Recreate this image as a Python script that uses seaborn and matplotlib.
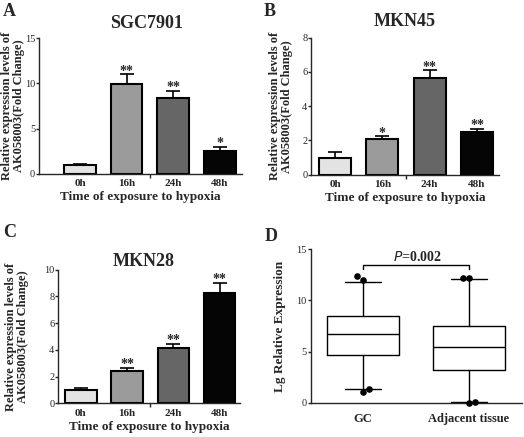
import matplotlib
matplotlib.use('Agg')
import matplotlib.pyplot as plt
import seaborn as sns

# Bar panels: time after hypoxia exposure
times = ['0h', '16h', '24h', '48h']
bar_colors = ['#e3e3e3', '#9b9b9b', '#666666', '#050505']

sgc7901_mean = [1.0, 9.9, 8.4, 2.5]
sgc7901_err = [0.08, 1.1, 0.75, 0.5]
sgc7901_sig = ['', '**', '**', '*']

mkn45_mean = [1.0, 2.1, 5.62, 2.52]
mkn45_err = [0.34, 0.14, 0.48, 0.16]
mkn45_sig = ['', '*', '**', '**']

mkn28_mean = [1.02, 2.45, 4.14, 8.25]
mkn28_err = [0.13, 0.2, 0.3, 0.75]
mkn28_sig = ['', '**', '**', '**']

# Box panel: GC vs adjacent tissue
groups = ['GC', 'Adjacent tissue']
box_whislo = [1.33, 0.05]
box_q1 = [4.7, 3.22]
box_med = [6.75, 5.42]
box_q3 = [8.5, 7.47]
box_whishi = [11.8, 12.1]
gc_fliers = [12.37, 11.98, 1.04, 1.33]
adj_fliers = [12.15, 12.15, 0.03, 0.1]
flier_dx = [-0.057, 0.0, 0.0, 0.06]
p_text = '=0.002'

sns.set_theme(style='ticks')
plt.rcParams['font.family'] = ['Liberation Serif', 'DejaVu Serif']
plt.rcParams['axes.linewidth'] = 1.0

fig = plt.figure(figsize=(5.24, 4.37), dpi=100)
ax_a = fig.add_axes([0.0744, 0.602, 0.3876, 0.311])
ax_b = fig.add_axes([0.594, 0.600, 0.358, 0.314])
ax_c = fig.add_axes([0.111, 0.077, 0.347, 0.306])
ax_d = fig.add_axes([0.594, 0.078, 0.402, 0.352])


def draw_bars(ax, title, means, errs, sig, yticks, xlim, title_pos, ylabel_x):
    sns.barplot(x=times, y=means, hue=times, palette=bar_colors, legend=False,
                edgecolor='black', linewidth=1.5, width=0.68, errorbar=None,
                saturation=1, ax=ax)
    ax.errorbar(range(len(times)), means, yerr=[[0] * len(errs), errs], fmt='none',
                ecolor='black', elinewidth=1.2, capsize=5, capthick=1.2, zorder=5)
    for i, s in enumerate(sig):
        if s:
            ax.annotate(s, (i, means[i] + errs[i]), xytext=(0, -2.5),
                        textcoords='offset points', ha='center', va='bottom',
                        fontsize=10, fontweight='bold')
    ax.set_xlim(*xlim)
    ax.set_ylim(yticks[0], yticks[-1])
    ax.set_yticks(yticks)
    ax.tick_params(axis='y', labelsize=7.5, length=2.2, width=1.0, pad=0.6)
    ax.tick_params(axis='x', length=0, pad=4, labelsize=8)
    ax.set_xticks([1.5], minor=True)
    ax.tick_params(axis='x', which='minor', length=3, width=1.0)
    for lab in ax.get_xticklabels():
        lab.set_fontweight('bold')
    ax.set_xlabel('Time of exposure to hypoxia', fontsize=9.5, fontweight='bold', labelpad=2)
    ax.set_ylabel('Relative expression levels of\nAK058003(Fold Change)', fontsize=9,
                  fontweight='bold', linespacing=1.0, va='center')
    ax.yaxis.set_label_coords(ylabel_x, 0.5)
    ax.text(title_pos[0], title_pos[1], title, transform=ax.transAxes, ha='center',
            va='center', fontsize=13, fontweight='bold')
    sns.despine(ax=ax)


draw_bars(ax_a, 'SGC7901', sgc7901_mean, sgc7901_err, sgc7901_sig, [0, 5, 10, 15],
          (-0.88, 3.48), (0.53, 1.11), -0.127)
draw_bars(ax_b, 'MKN45', mkn45_mean, mkn45_err, mkn45_sig, [0, 2, 4, 6, 8],
          (-0.5, 3.46), (0.5, 1.12), -0.16)
draw_bars(ax_c, 'MKN28', mkn28_mean, mkn28_err, mkn28_sig, [0, 2, 4, 6, 8, 10],
          (-0.49, 3.44), (0.47, 1.063), -0.225)

# Box plot panel
stats = []
for i in range(len(groups)):
    stats.append(dict(whislo=box_whislo[i], q1=box_q1[i], med=box_med[i],
                      q3=box_q3[i], whishi=box_whishi[i], fliers=[]))
line_kw = dict(color='black', linewidth=1.0)
ax_d.bxp(stats, positions=[0, 1], widths=0.68, capwidths=0.34, showfliers=False,
         boxprops=line_kw, whiskerprops=line_kw, capprops=line_kw,
         medianprops=line_kw)
for pos, fl in enumerate([gc_fliers, adj_fliers]):
    ax_d.scatter([pos + d for d in flier_dx], fl, s=14, color='black', zorder=5,
                 clip_on=False)
ax_d.plot([0, 0, 1, 1], [13.05, 13.45, 13.45, 13.05], color='black', linewidth=1.0)
ax_d.text(0.51, 14.2, r'$\it{P}$' + p_text, ha='center', va='center', fontsize=10,
          fontweight='bold')
ax_d.set_xlim(-0.49, 1.5)
ax_d.set_ylim(0, 15)
ax_d.set_yticks([0, 5, 10, 15])
ax_d.set_xticks([0, 1])
ax_d.set_xticklabels(groups, fontsize=9, fontweight='bold')
ax_d.tick_params(axis='y', labelsize=7.5, length=2.2, width=1.0, pad=1)
ax_d.tick_params(axis='x', length=0, pad=7)
ax_d.set_ylabel('Lg Relative Expression', fontsize=9.5, fontweight='bold', va='center')
ax_d.yaxis.set_label_coords(-0.147, 0.5)
sns.despine(ax=ax_d)

for letter, x, y in [('A', 9, 11), ('B', 270, 11), ('C', 10, 233), ('D', 271, 236)]:
    fig.text(x / 524, 1 - y / 437, letter, ha='center', va='center', fontsize=13,
             fontweight='bold')

fig.savefig('out.png', dpi=100)
